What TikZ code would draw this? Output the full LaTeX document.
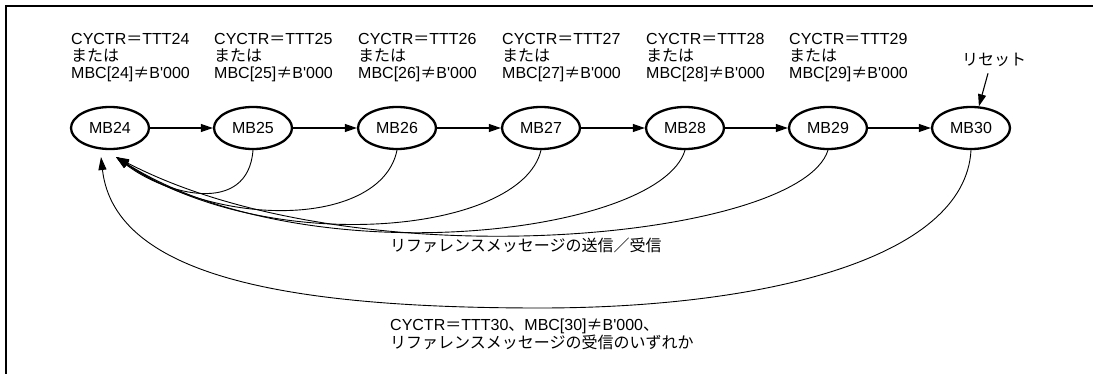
\documentclass[tikz,border=0pt]{standalone}
\usepackage{fontspec}
\newfontfamily\lat{Liberation Sans}
\newfontfamily\jp{Noto Sans CJK JP}
\usetikzlibrary{arrows.meta,shapes.geometric}
\begin{document}
\begin{tikzpicture}[x=1pt,y=-1pt,
  every node/.style={font=\lat\fontsize{16}{17.3}\selectfont},
  state/.style={ellipse,draw,line width=2.3pt,minimum width=78pt,minimum height=42pt,inner sep=0pt},
  lbl/.style={anchor=north west,align=left,inner sep=0pt},
  arr/.style={line width=1.1pt,-{Triangle[length=12pt,width=8pt]}},
  back/.style={line width=0.9pt,-{Triangle[length=13pt,width=8pt]}}]
\useasboundingbox (0,0) rectangle (1093,374);
\draw[line width=2.2pt] (6,374) -- (6,6) -- (1093,6);
\foreach \n/\x in {24/110,25/253,26/397,27/541,28/685,29/828,30/971}
  \node[state] (m\n) at (\x,128) {MB\n};
\foreach \n/\x in {24/110,25/253,26/397,27/541,28/685,29/828}
  \node[lbl] (l\n) at (\x-39,33) {CYCTR{\jp ＝}TTT\n\\{\jp または}\\MBC[\n]{\jp ≠}B'000};
\node (reset) at (994,60) {\jp リセット};
\draw[arr] ([xshift=-6pt,yshift=-3pt]reset.south) -- (m30.70);
\draw[arr] (m24) -- (m25);
\draw[arr] (m25) -- (m26);
\draw[arr] (m26) -- (m27);
\draw[arr] (m27) -- (m28);
\draw[arr] (m28) -- (m29);
\draw[arr] (m29) -- (m30);
\coordinate (tA) at (116,157);
\coordinate (tB) at (101,157);
\draw[back] (m25.south) .. controls +(-5,66) and +(50,38) .. (tA);
\draw[back] (m26.south) .. controls +(-15,75) and +(107,74) .. (tA);
\draw[back] (m27.south) .. controls +(-20,85) and +(150,100) .. (tA);
\draw[back] (m28.south) .. controls +(-25,85) and +(190,120) .. (tA);
\draw[back] (m29.south) .. controls +(-28,90) and +(240,125) .. (tA);
\draw[back] (m30.south) .. controls (965,260) and (760,308) .. (540,308)
  .. controls (300,308) and (115,280) .. (tB);
\node[anchor=west,inner sep=0pt] (t1) at (390,245) {\jp リファレンスメッセージの送信／受信};
\node[lbl] (t2) at (390,319) {CYCTR{\jp ＝}TTT30{\jp 、}MBC[30]{\jp ≠}B'000{\jp 、}\\{\jp リファレンスメッセージの受信のいずれか}};
\end{tikzpicture}
\end{document}
